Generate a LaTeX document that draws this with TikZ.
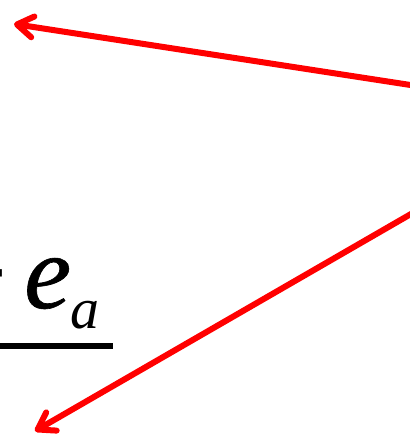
\documentclass[tikz,border=0pt]{standalone}
\usepackage{fontspec}
\setmainfont{Liberation Serif}
\newfontface\heavyit[FakeBold=0.6]{Liberation Serif Italic}
\usepackage{xcolor}
\usetikzlibrary{positioning,arrows.meta,calc}

\definecolor{ptred}{RGB}{255,0,0}

\begin{document}
\begin{tikzpicture}[
  x=1pt, y=-1pt,
  bigtxt/.style={inner sep=0pt, font=\fontsize{106}{106}\selectfont},
  subtxt/.style={inner sep=0pt, font=\fontsize{58}{58}\selectfont\itshape},
  fracbar/.style={line width=6pt, black},
  pointer/.style={-{Straight Barb[length=16pt, width=21pt, round]}, line width=6pt, ptred, line cap=round}
]
\useasboundingbox (0,0) rectangle (410,448);
\clip (0,0) rectangle (410,448);

% numerator remnant
\node[bigtxt, font=\fontsize{106}{106}\selectfont\heavyit, anchor=base west] (ee) at (24,308) {e};
\node[bigtxt, font=\fontsize{106}{106}\selectfont\bfseries, anchor=base east] (plus) at ($(ee.base west)+(-16,0)$) {+};
\node[subtxt, anchor=base west] (sub) at (70,328) {a};

% fraction bar
\coordinate (barL) at (-5,346);
\coordinate (barR) at (113,346);
\draw[fracbar] (barL) -- (barR);

% arrows coming in from the right
\coordinate (srcA) at (430,88);
\coordinate (tipA) at (14,24);
\coordinate (srcB) at (430,203);
\coordinate (tipB) at (35,431);
\draw[pointer] (srcA) -- (tipA);
\draw[pointer] (srcB) -- (tipB);
\end{tikzpicture}
\end{document}
